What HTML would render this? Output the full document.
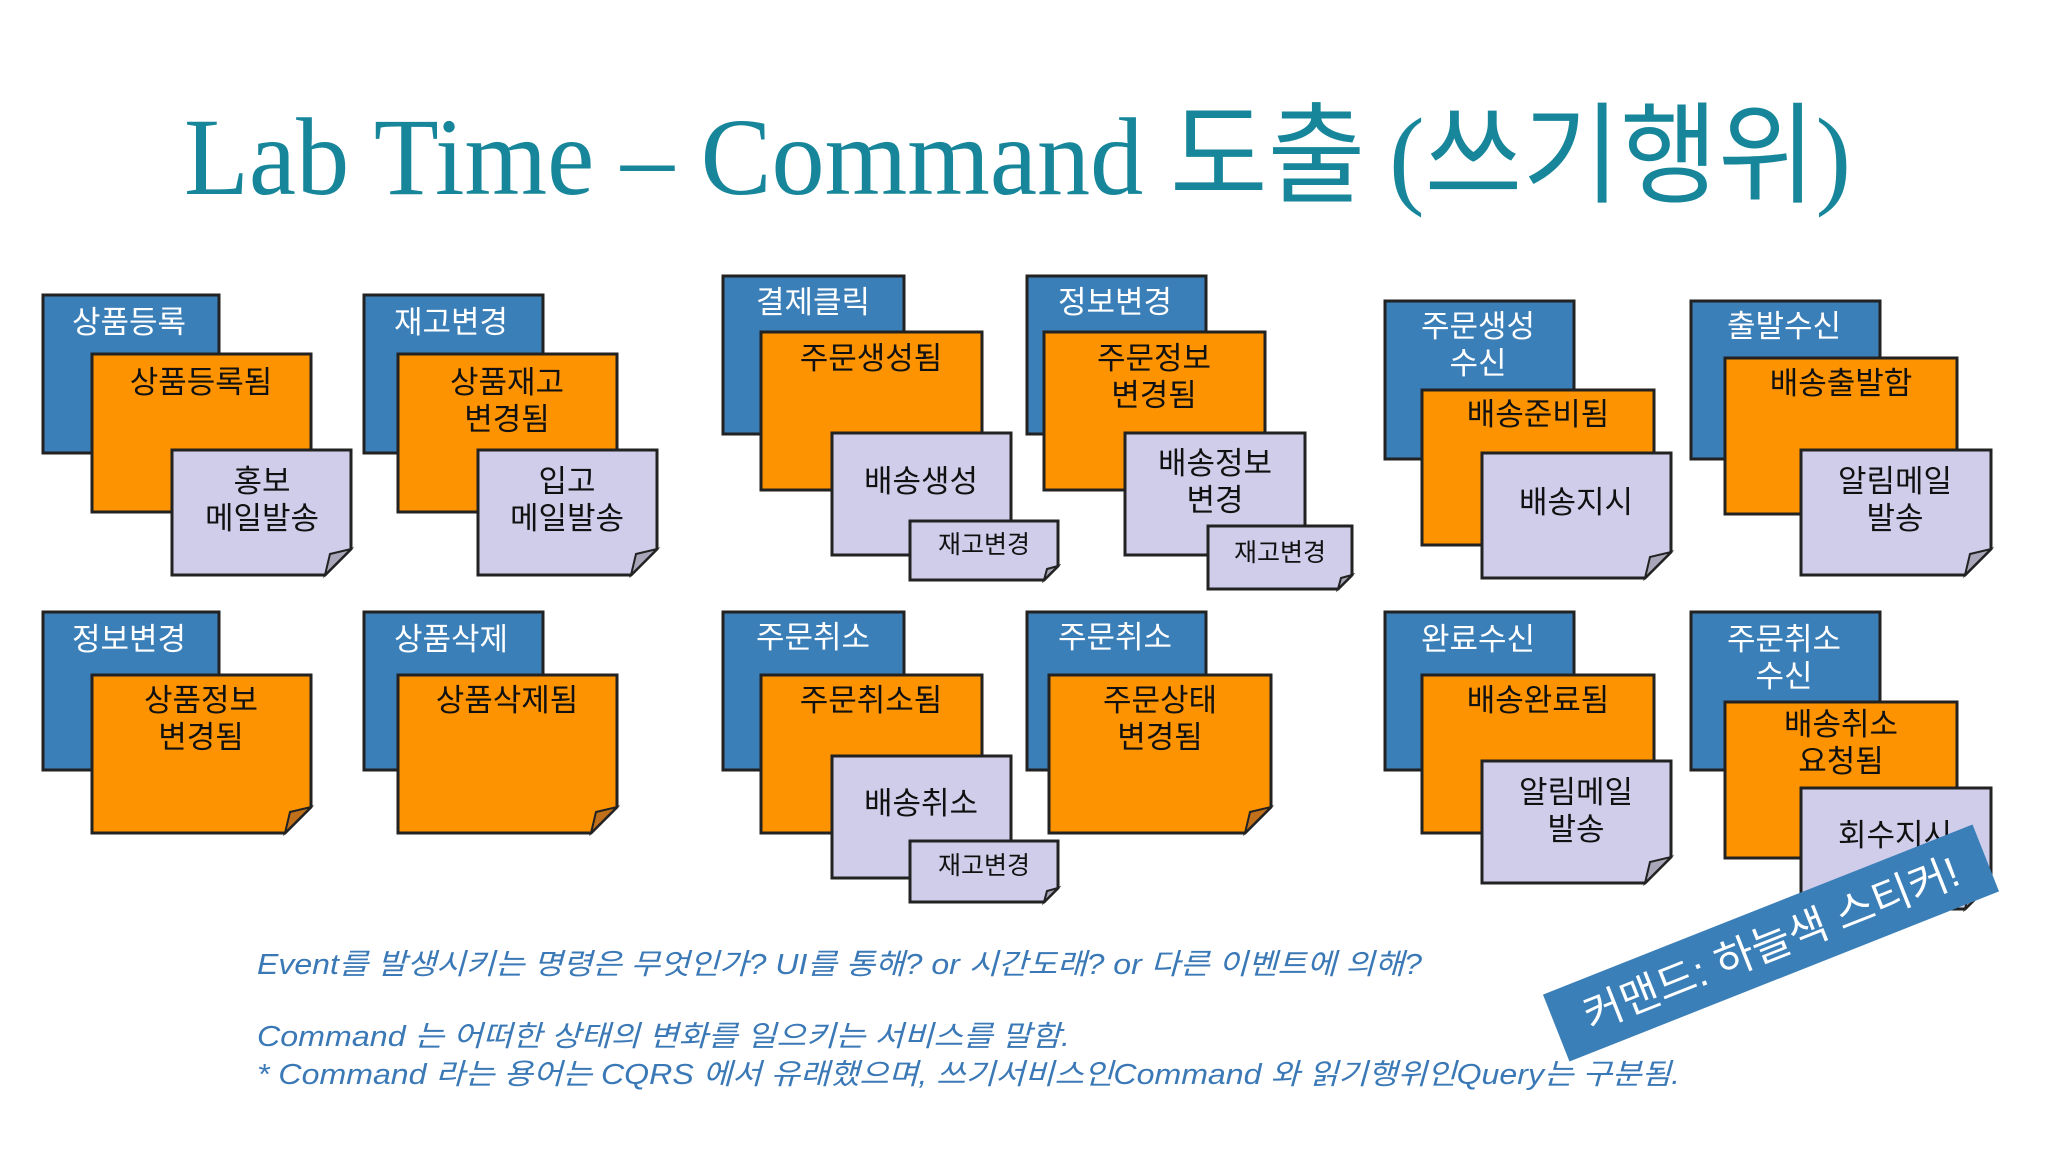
<!DOCTYPE html>
<html><head><meta charset="utf-8"><style>
html,body{margin:0;padding:0;background:#fff;}
svg{display:block;}
</style></head><body>
<svg width="2048" height="1152" viewBox="0 0 2048 1152" xmlns="http://www.w3.org/2000/svg">
<defs>
<style>
.t{font-family:"Liberation Sans","Noto Sans CJK KR",sans-serif;text-anchor:middle;}
.bl{fill:#fff;font-size:31px;}
.bk{fill:#111;font-size:31px;}
.sm{fill:#111;font-size:25px;}
</style>
</defs>
<rect width="2048" height="1152" fill="#fff"/>
<text x="184" y="194" textLength="1667" lengthAdjust="spacingAndGlyphs" fill="#17869a" style="font-family:'Liberation Serif','Noto Sans CJK KR',serif;font-size:110px;">Lab Time – Command <tspan style="font-family:'Noto Sans CJK KR',sans-serif;">도출 </tspan>(<tspan style="font-family:'Noto Sans CJK KR',sans-serif;">쓰기행위</tspan>)</text>

<g stroke="#222" stroke-width="3">
<!-- G1 -->
<rect x="43" y="295" width="176" height="158" fill="#3b7fb8"/>
<polygon points="92,354 311,354 311,486 285,512 92,512" fill="#fd9300"/>
<polygon points="172,450 351,450 351,549 325,575 172,575" fill="#d0cdea"/>
<!-- G2 -->
<rect x="364" y="295" width="179" height="158" fill="#3b7fb8"/>
<polygon points="398,354 617,354 617,486 591,512 398,512" fill="#fd9300"/>
<polygon points="478,450 657,450 657,549 631,575 478,575" fill="#d0cdea"/>
<!-- G3 -->
<rect x="43" y="612" width="176" height="158" fill="#3b7fb8"/>
<polygon points="92,675 311,675 311,807 285,833 92,833" fill="#fd9300"/>
<!-- G4 -->
<rect x="364" y="612" width="179" height="158" fill="#3b7fb8"/>
<polygon points="398,675 617,675 617,807 591,833 398,833" fill="#fd9300"/>
<!-- G5 -->
<rect x="723" y="276" width="181" height="158" fill="#3b7fb8"/>
<polygon points="761,332 982,332 982,464 956,490 761,490" fill="#fd9300"/>
<polygon points="832,433 1011,433 1011,529 985,555 832,555" fill="#d0cdea"/>
<polygon points="910,521 1058,521 1058,566 1044,580 910,580" fill="#d0cdea"/>
<!-- G6 -->
<rect x="1027" y="276" width="179" height="158" fill="#3b7fb8"/>
<polygon points="1044,332 1265,332 1265,464 1239,490 1044,490" fill="#fd9300"/>
<polygon points="1125,433 1305,433 1305,529 1279,555 1125,555" fill="#d0cdea"/>
<polygon points="1208,526 1352,526 1352,575 1338,589 1208,589" fill="#d0cdea"/>
<!-- G7 -->
<rect x="723" y="612" width="181" height="158" fill="#3b7fb8"/>
<polygon points="761,675 982,675 982,807 956,833 761,833" fill="#fd9300"/>
<polygon points="832,756 1011,756 1011,852 985,878 832,878" fill="#d0cdea"/>
<polygon points="910,841 1058,841 1058,888 1044,902 910,902" fill="#d0cdea"/>
<!-- G8 -->
<rect x="1027" y="612" width="179" height="158" fill="#3b7fb8"/>
<polygon points="1049,675 1271,675 1271,807 1245,833 1049,833" fill="#fd9300"/>
<!-- G9 -->
<rect x="1385" y="301" width="189" height="158" fill="#3b7fb8"/>
<polygon points="1422,390 1654,390 1654,519 1628,545 1422,545" fill="#fd9300"/>
<polygon points="1482,453 1671,453 1671,552 1645,578 1482,578" fill="#d0cdea"/>
<!-- G10 -->
<rect x="1691" y="301" width="189" height="158" fill="#3b7fb8"/>
<polygon points="1725,358 1957,358 1957,488 1931,514 1725,514" fill="#fd9300"/>
<polygon points="1801,450 1991,450 1991,549 1965,575 1801,575" fill="#d0cdea"/>
<!-- G11 -->
<rect x="1385" y="612" width="189" height="158" fill="#3b7fb8"/>
<polygon points="1422,675 1654,675 1654,807 1628,833 1422,833" fill="#fd9300"/>
<polygon points="1482,761 1671,761 1671,857 1645,883 1482,883" fill="#d0cdea"/>
<!-- G12 -->
<rect x="1691" y="612" width="189" height="158" fill="#3b7fb8"/>
<polygon points="1725,702 1957,702 1957,832 1931,858 1725,858" fill="#fd9300"/>
<polygon points="1801,788 1991,788 1991,883 1965,909 1801,909" fill="#d0cdea"/>
</g>
<!-- folds -->
<g stroke="#222" stroke-width="2">
<polygon points="311,807 285,833 290,812" fill="#c0701a"/>
<polygon points="617,807 591,833 596,812" fill="#c0701a"/>
<polygon points="1271,807 1245,833 1250,812" fill="#c0701a"/>
<polygon points="351,549 325,575 330,554" fill="#a8a6b8"/>
<polygon points="657,549 631,575 636,554" fill="#a8a6b8"/>
<polygon points="1058,566 1044,580 1047,569" fill="#a8a6b8"/>
<polygon points="1352,575 1338,589 1341,578" fill="#a8a6b8"/>
<polygon points="1058,888 1044,902 1047,891" fill="#a8a6b8"/>
<polygon points="1671,552 1645,578 1650,557" fill="#a8a6b8"/>
<polygon points="1991,549 1965,575 1970,554" fill="#a8a6b8"/>
<polygon points="1671,857 1645,883 1650,862" fill="#a8a6b8"/>
<polygon points="1991,883 1965,909 1970,888" fill="#a8a6b8"/>
</g>

<g class="t">
<!-- blue labels -->
<text class="t bl" x="129" y="333">상품등록</text>
<text class="t bl" x="451" y="333">재고변경</text>
<text class="t bl" x="129" y="650">정보변경</text>
<text class="t bl" x="451" y="650">상품삭제</text>
<text class="t bl" x="813" y="313">결제클릭</text>
<text class="t bl" x="1115" y="313">정보변경</text>
<text class="t bl" x="813" y="648">주문취소</text>
<text class="t bl" x="1115" y="648">주문취소</text>
<text class="t bl" x="1478" y="337">주문생성</text>
<text class="t bl" x="1478" y="374">수신</text>
<text class="t bl" x="1784" y="337">출발수신</text>
<text class="t bl" x="1478" y="650">완료수신</text>
<text class="t bl" x="1784" y="650">주문취소</text>
<text class="t bl" x="1784" y="687">수신</text>
<!-- orange -->
<text class="t bk" x="201" y="393">상품등록됨</text>
<text class="t bk" x="507" y="393">상품재고</text>
<text class="t bk" x="507" y="430">변경됨</text>
<text class="t bk" x="201" y="711">상품정보</text>
<text class="t bk" x="201" y="748">변경됨</text>
<text class="t bk" x="507" y="711">상품삭제됨</text>
<text class="t bk" x="871" y="369">주문생성됨</text>
<text class="t bk" x="1154" y="369">주문정보</text>
<text class="t bk" x="1154" y="406">변경됨</text>
<text class="t bk" x="871" y="711">주문취소됨</text>
<text class="t bk" x="1160" y="711">주문상태</text>
<text class="t bk" x="1160" y="748">변경됨</text>
<text class="t bk" x="1538" y="425">배송준비됨</text>
<text class="t bk" x="1841" y="394">배송출발함</text>
<text class="t bk" x="1538" y="711">배송완료됨</text>
<text class="t bk" x="1841" y="735">배송취소</text>
<text class="t bk" x="1841" y="772">요청됨</text>
<!-- lilac -->
<text class="t bk" x="262" y="492">홍보</text>
<text class="t bk" x="262" y="529">메일발송</text>
<text class="t bk" x="567" y="492">입고</text>
<text class="t bk" x="567" y="529">메일발송</text>
<text class="t bk" x="921" y="492">배송생성</text>
<text class="t bk" x="1215" y="474">배송정보</text>
<text class="t bk" x="1215" y="511">변경</text>
<text class="t bk" x="921" y="814">배송취소</text>
<text class="t bk" x="1576" y="513">배송지시</text>
<text class="t bk" x="1895" y="492">알림메일</text>
<text class="t bk" x="1895" y="529">발송</text>
<text class="t bk" x="1576" y="803">알림메일</text>
<text class="t bk" x="1576" y="840">발송</text>
<text class="t bk" x="1895" y="846">회수지시</text>
<!-- small -->
<text class="t sm" x="984" y="553">재고변경</text>
<text class="t sm" x="1280" y="561">재고변경</text>
<text class="t sm" x="984" y="874">재고변경</text>
</g>

<!-- body text -->
<g fill="#3a78b6" style="font-family:'Liberation Sans','Noto Sans CJK KR',sans-serif;font-style:italic;font-size:29px;">
<text x="257" y="974" textLength="1165" lengthAdjust="spacingAndGlyphs">Event를 발생시키는 명령은 무엇인가? UI를 통해? or 시간도래? or 다른 이벤트에 의해?</text>
<text x="257" y="1046" textLength="813" lengthAdjust="spacingAndGlyphs">Command 는 어떠한 상태의 변화를 일으키는 서비스를 말함.</text>
<text x="257" y="1084" textLength="1423" lengthAdjust="spacingAndGlyphs">* Command 라는 용어는 CQRS 에서 유래했으며, 쓰기서비스인Command 와 읽기행위인Query는 구분됨.</text>
</g>

<!-- banner -->
<g transform="translate(1771,943) rotate(-21.6)">
<rect x="-231" y="-36" width="462" height="72" fill="#3b7fb8"/>
<text x="0" y="15" text-anchor="middle" fill="#fff" style="font-family:'Liberation Sans','Noto Sans CJK KR',sans-serif;font-size:42px;" textLength="400" lengthAdjust="spacingAndGlyphs">커맨드: 하늘색 스티커!</text>
</g>
</svg>
</body></html>
